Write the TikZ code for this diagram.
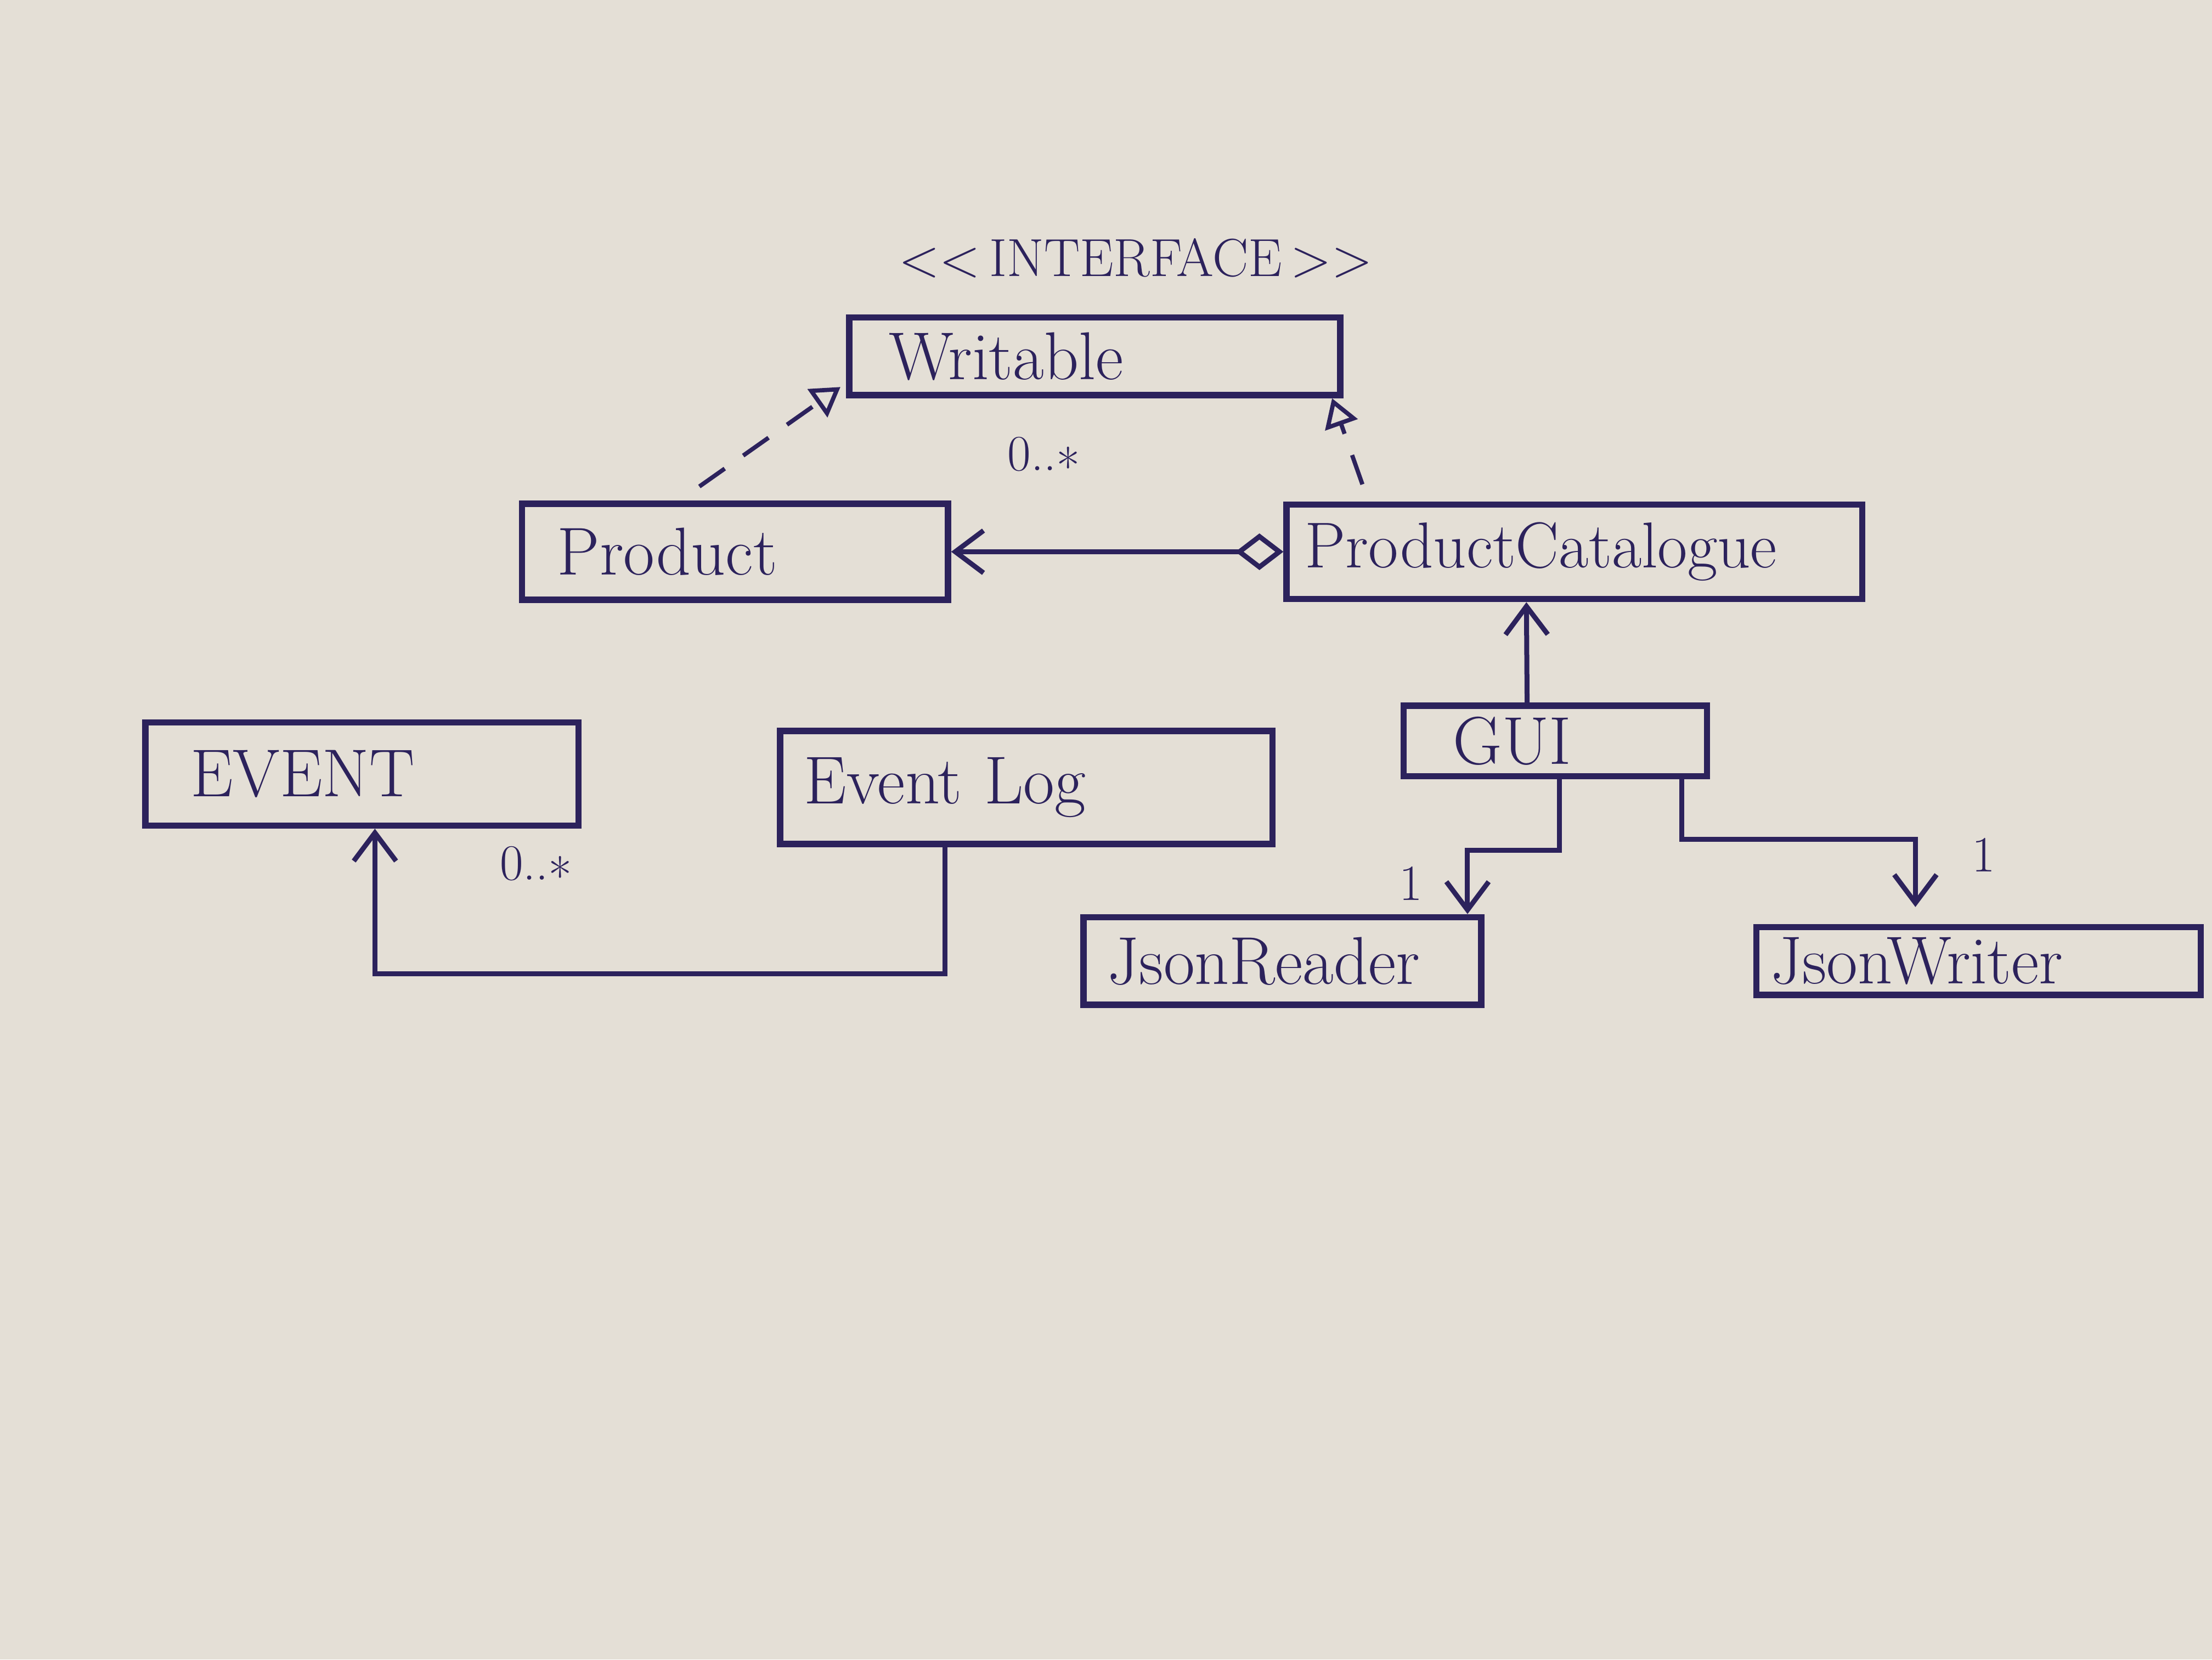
\documentclass[tikz,border=0pt]{standalone}
\usepackage{fontspec}
\usetikzlibrary{arrows.meta,calc}
\definecolor{ink}{RGB}{44,34,92}
\definecolor{paper}{RGB}{228,223,214}
\tikzset{
  box/.style={draw=ink, line width=4.5pt, rectangle, inner ysep=0pt, align=left,
              text=ink, font=\fontsize{48}{54}\selectfont},
  conn/.style={draw=ink, line width=3.5pt},
  dep/.style={conn, line width=3pt, dash pattern=on 22pt off 16pt,
              -{Triangle[open, length=20pt, width=24pt, line width=3pt]}},
  barb/.style={-{Straight Barb[length=20pt, width=30pt, line width=3.5pt]}},
  mult/.style={text=ink, font=\fontsize{36}{40}\selectfont, inner sep=1pt}
}
\begin{document}
\begin{tikzpicture}[x=1pt,y=-1pt]
\fill[paper] (0,0) rectangle (1568,1176);
\useasboundingbox (0,0) rectangle (1568,1176);

% stereotype
\node[text=ink, font=\fontsize{38}{42}\selectfont] (stereo) at (805,183)
  {<{}<\,INTERFACE\,>{}>};

% classes
\node[box, minimum height=55pt, inner xsep=28pt, text width=292pt] (writ) at (776,252.5) {Writable};
\node[box, minimum height=68pt, inner xsep=25pt, text width=252pt] (prod) at (521,391) {Product};
\node[box, minimum height=67pt, inner xsep=13pt, text width=382pt, font=\fontsize{46}{52}\selectfont] (pcat) at (1116,391) {ProductCatalogue};
\node[box, minimum height=73pt, inner xsep=32pt, text width=243pt] (event) at (256.5,548.5) {EVENT};
\node[box, minimum height=80pt, inner xsep=17pt, text width=315pt] (elog) at (727.5,558) {Event Log};
\node[box, minimum height=50pt, inner xsep=35pt, text width=145pt] (gui) at (1102.5,525) {GUI};
\node[box, minimum height=62pt, inner xsep=17pt, text width=248pt] (jr) at (909,681) {JsonReader};
\node[box, minimum height=48pt, inner xsep=10pt, text width=295pt] (jw) at (1402.5,681) {JsonWriter};

% realizations
\draw[dep] ($(prod.north west)+(128,-10)$) -- ($(writ.south west)+(-4,-8)$);
\draw[dep] ($(pcat.north west)+(56,-12)$) -- ($(writ.south east)+(-8,0)$);

% aggregation ProductCatalogue -> Product
\draw[conn, {Diamond[open, length=34pt, width=26pt, line width=3.5pt]}-{Straight Barb[length=20pt, width=30pt, line width=3.5pt]}]
  (pcat.west) -- (prod.east);
\node[mult] (m1) at (740,322) {0..\textasteriskcentered};

% GUI -> ProductCatalogue
\draw[conn, barb] ($(gui.north)+(-20,0)$) -- ($(pcat.south)+(-34,0)$);

% GUI -> JsonReader
\draw[conn, barb] ($(gui.south)+(3,0)$) |- ($(jr.north east)+(-12,-45)$) -- ($(jr.north east)+(-12,0)$);
\node[mult] (m3) at (1000,626) {1};

% GUI -> JsonWriter
\draw[conn, barb] ($(gui.south east)+(-20,0)$) |- ($(jw.north west)+(115,-60)$) -- ($(jw.north west)+(115,-12)$);
\node[mult] (m4) at (1406,606) {1};

% EventLog -> EVENT
\draw[conn, barb] ($(elog.south west)+(119,0)$) -- ++(0,90) -| ($(event.south west)+(165,0)$);
\node[mult] (m2) at (380,612) {0..\textasteriskcentered};
\end{tikzpicture}
\end{document}
